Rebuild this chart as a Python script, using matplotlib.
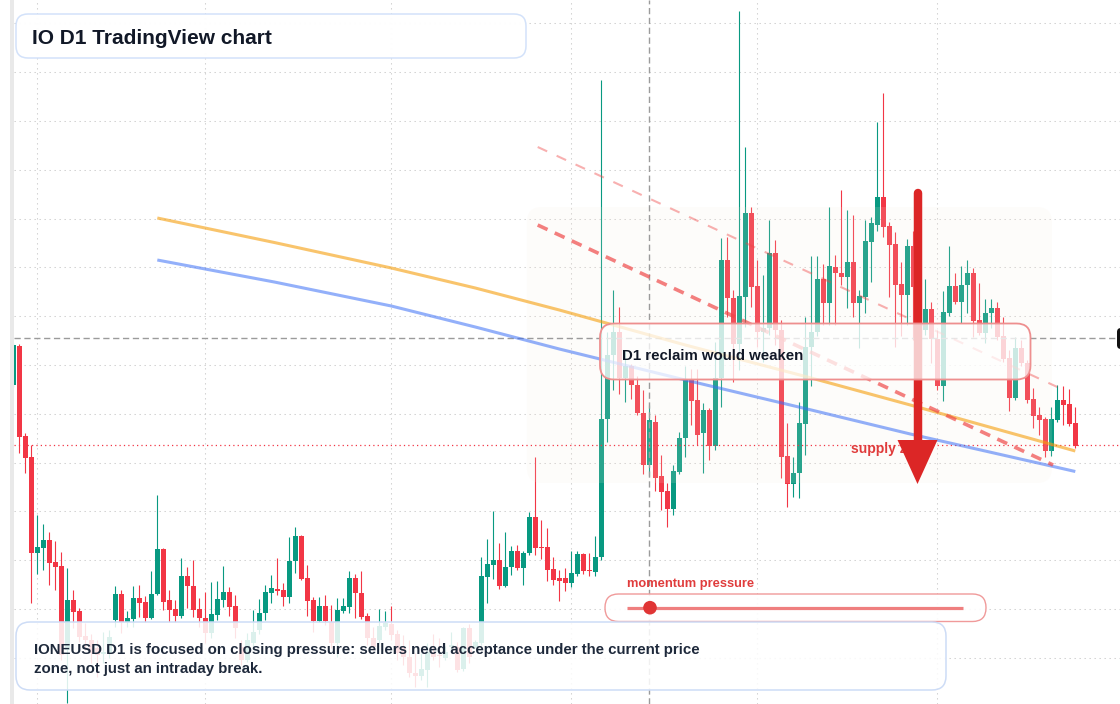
import numpy as np
import matplotlib.pyplot as plt
import matplotlib.transforms as mtransforms
from matplotlib.patches import FancyBboxPatch, Polygon, Circle, Rectangle

plt.rcParams['font.family'] = ['Liberation Sans', 'DejaVu Sans']

W, H = 1120, 704

# daily IO candles (price units), oldest first
opens = [0.519, 0.558, 0.468, 0.447, 0.351, 0.356, 0.364, 0.342, 0.338, 0.254,
         0.304, 0.293, 0.268, 0.264, 0.256, 0.250, 0.251, 0.284, 0.310, 0.282,
         0.285, 0.306, 0.302, 0.286, 0.310, 0.355, 0.304, 0.295, 0.288, 0.328,
         0.318, 0.295, 0.286, 0.271, 0.289, 0.304, 0.312, 0.298, 0.257, 0.244,
         0.261, 0.274, 0.291, 0.311, 0.315, 0.314, 0.307, 0.343, 0.368, 0.326,
         0.304, 0.283, 0.298, 0.282, 0.261, 0.293, 0.297, 0.326, 0.311, 0.288,
         0.266, 0.264, 0.277, 0.280, 0.270, 0.257, 0.247, 0.231, 0.228, 0.234,
         0.252, 0.249, 0.246, 0.257, 0.257, 0.235, 0.276, 0.257, 0.261, 0.327,
         0.339, 0.344, 0.318, 0.337, 0.353, 0.336, 0.351, 0.387, 0.357, 0.357,
         0.335, 0.326, 0.326, 0.321, 0.330, 0.350, 0.334, 0.332, 0.347, 0.485,
         0.549, 0.572, 0.526, 0.538, 0.519, 0.491, 0.439, 0.482, 0.428, 0.413,
         0.395, 0.432, 0.466, 0.525, 0.504, 0.471, 0.494, 0.458, 0.526, 0.644,
         0.606, 0.560, 0.607, 0.691, 0.618, 0.572, 0.576, 0.651, 0.574, 0.448,
         0.420, 0.431, 0.480, 0.557, 0.572, 0.625, 0.601, 0.637, 0.631, 0.627,
         0.642, 0.601, 0.607, 0.662, 0.679, 0.707, 0.678, 0.660, 0.620, 0.609,
         0.658, 0.617, 0.574, 0.595, 0.565, 0.518, 0.591, 0.618, 0.602, 0.619,
         0.631, 0.584, 0.571, 0.591, 0.596, 0.568, 0.546, 0.506, 0.556, 0.541,
         0.505, 0.489, 0.485, 0.453, 0.484, 0.504, 0.500, 0.481]
highs = [0.561, 0.560, 0.471, 0.459, 0.389, 0.380, 0.372, 0.363, 0.352, 0.336,
         0.314, 0.296, 0.281, 0.270, 0.264, 0.272, 0.274, 0.318, 0.314, 0.293,
         0.318, 0.319, 0.308, 0.333, 0.409, 0.356, 0.314, 0.304, 0.346, 0.337,
         0.344, 0.306, 0.312, 0.322, 0.323, 0.338, 0.317, 0.309, 0.264, 0.271,
         0.294, 0.305, 0.319, 0.329, 0.346, 0.321, 0.367, 0.377, 0.369, 0.339,
         0.307, 0.307, 0.309, 0.299, 0.306, 0.306, 0.333, 0.330, 0.333, 0.291,
         0.277, 0.295, 0.293, 0.298, 0.274, 0.269, 0.264, 0.251, 0.251, 0.261,
         0.270, 0.266, 0.258, 0.272, 0.262, 0.277, 0.280, 0.264, 0.347, 0.365,
         0.393, 0.361, 0.372, 0.358, 0.359, 0.353, 0.392, 0.447, 0.384, 0.376,
         0.347, 0.334, 0.336, 0.353, 0.353, 0.351, 0.351, 0.368, 0.824, 0.572,
         0.614, 0.597, 0.553, 0.540, 0.528, 0.514, 0.499, 0.489, 0.449, 0.421,
         0.439, 0.472, 0.538, 0.535, 0.535, 0.501, 0.496, 0.562, 0.666, 0.667,
         0.614, 0.893, 0.757, 0.697, 0.644, 0.629, 0.684, 0.664, 0.584, 0.481,
         0.447, 0.502, 0.587, 0.648, 0.648, 0.640, 0.697, 0.649, 0.714, 0.694,
         0.689, 0.614, 0.684, 0.687, 0.782, 0.811, 0.682, 0.672, 0.642, 0.665,
         0.673, 0.624, 0.625, 0.602, 0.574, 0.613, 0.658, 0.631, 0.638, 0.644,
         0.636, 0.621, 0.605, 0.605, 0.602, 0.587, 0.554, 0.567, 0.564, 0.544,
         0.516, 0.497, 0.487, 0.497, 0.519, 0.518, 0.515, 0.497]
lows = [0.517, 0.451, 0.431, 0.301, 0.330, 0.334, 0.319, 0.314, 0.244, 0.201,
        0.276, 0.262, 0.254, 0.241, 0.227, 0.241, 0.246, 0.277, 0.271, 0.277,
        0.277, 0.287, 0.282, 0.285, 0.309, 0.294, 0.282, 0.282, 0.286, 0.296,
        0.287, 0.277, 0.261, 0.266, 0.284, 0.297, 0.288, 0.266, 0.239, 0.242,
        0.257, 0.270, 0.284, 0.301, 0.309, 0.298, 0.301, 0.331, 0.324, 0.288,
        0.272, 0.282, 0.279, 0.256, 0.247, 0.291, 0.291, 0.286, 0.285, 0.259,
        0.254, 0.261, 0.274, 0.264, 0.244, 0.239, 0.227, 0.217, 0.224, 0.217,
        0.244, 0.237, 0.244, 0.252, 0.232, 0.233, 0.241, 0.256, 0.259, 0.301,
        0.325, 0.315, 0.317, 0.329, 0.334, 0.319, 0.349, 0.349, 0.345, 0.323,
        0.319, 0.303, 0.313, 0.317, 0.328, 0.330, 0.328, 0.328, 0.344, 0.462,
        0.514, 0.510, 0.502, 0.505, 0.489, 0.430, 0.428, 0.413, 0.394, 0.377,
        0.389, 0.430, 0.447, 0.479, 0.459, 0.431, 0.444, 0.454, 0.497, 0.587,
        0.522, 0.534, 0.577, 0.597, 0.557, 0.542, 0.569, 0.559, 0.426, 0.397,
        0.407, 0.406, 0.449, 0.518, 0.568, 0.579, 0.579, 0.579, 0.619, 0.596,
        0.587, 0.556, 0.591, 0.622, 0.673, 0.667, 0.607, 0.557, 0.568, 0.579,
        0.564, 0.569, 0.569, 0.541, 0.514, 0.503, 0.588, 0.600, 0.581, 0.591,
        0.567, 0.569, 0.561, 0.576, 0.564, 0.542, 0.493, 0.504, 0.538, 0.501,
        0.476, 0.469, 0.447, 0.448, 0.482, 0.479, 0.478, 0.456]
closes = [0.559, 0.467, 0.446, 0.351, 0.357, 0.364, 0.341, 0.337, 0.249, 0.304,
          0.292, 0.267, 0.264, 0.251, 0.249, 0.252, 0.267, 0.310, 0.282, 0.286,
          0.306, 0.301, 0.286, 0.310, 0.355, 0.302, 0.294, 0.288, 0.328, 0.318,
          0.294, 0.286, 0.271, 0.290, 0.305, 0.312, 0.297, 0.276, 0.244, 0.264,
          0.272, 0.291, 0.312, 0.316, 0.313, 0.307, 0.343, 0.368, 0.325, 0.303,
          0.283, 0.298, 0.283, 0.261, 0.294, 0.298, 0.326, 0.311, 0.287, 0.266,
          0.257, 0.278, 0.281, 0.269, 0.251, 0.247, 0.231, 0.228, 0.235, 0.252,
          0.247, 0.248, 0.252, 0.259, 0.234, 0.276, 0.247, 0.262, 0.328, 0.340,
          0.344, 0.318, 0.337, 0.353, 0.336, 0.351, 0.387, 0.356, 0.356, 0.334,
          0.324, 0.323, 0.321, 0.331, 0.350, 0.333, 0.333, 0.347, 0.485, 0.549,
          0.572, 0.526, 0.538, 0.519, 0.491, 0.439, 0.484, 0.426, 0.412, 0.395,
          0.433, 0.466, 0.525, 0.503, 0.469, 0.494, 0.458, 0.526, 0.644, 0.606,
          0.560, 0.608, 0.691, 0.617, 0.572, 0.576, 0.651, 0.574, 0.447, 0.420,
          0.431, 0.481, 0.557, 0.572, 0.625, 0.601, 0.638, 0.631, 0.627, 0.642,
          0.601, 0.608, 0.663, 0.681, 0.707, 0.677, 0.659, 0.619, 0.609, 0.658,
          0.617, 0.574, 0.595, 0.565, 0.518, 0.592, 0.618, 0.602, 0.619, 0.631,
          0.583, 0.571, 0.591, 0.596, 0.567, 0.545, 0.506, 0.556, 0.541, 0.504,
          0.488, 0.484, 0.453, 0.485, 0.504, 0.499, 0.480, 0.458]

# overlays (x in candle index, y in price)
ema_fast_x = [24, 43.5, 63, 77, 91, 112, 133, 149.5, 177]
ema_fast = [0.686, 0.6615, 0.636, 0.616, 0.594, 0.559, 0.526, 0.499, 0.453]
ema_slow_x = [24, 43.5, 63, 77, 91, 112, 133, 149.5, 177]
ema_slow = [0.644, 0.622, 0.598, 0.577, 0.555, 0.524, 0.494, 0.470, 0.4325]
upper_trend_x = [87.4, 174.0]
upper_trend = [0.757, 0.517]
lower_trend_x = [87.4, 173.3]
lower_trend = [0.679, 0.439]
zone_x = [85.6, 173.1]
zone_y = [0.421, 0.697]
last_price = 0.459
cross_x, cross_y = 106, 0.566
month_starts = [4, 32, 63, 93, 124, 154]
arrow_x, arrow_from, arrow_to = 150.7, 0.711, 0.420

GREEN, RED = '#089981', '#f23645'

fig = plt.figure(figsize=(W / 100, H / 100), dpi=100)
ax = fig.add_axes([13.6 / W, 0, 1 - 13.6 / W, 1])
ax.set_axis_off()
pix = mtransforms.Affine2D().scale(1, -1).translate(0, H)

o, hi, lo, c = map(np.array, (opens, highs, lows, closes))
idx = np.arange(len(o))
up = c >= o
col = np.where(up, GREEN, RED)

# grid
for lvl in np.arange(0.2462, 0.89, 0.0488):
    ax.axhline(lvl, color='#cfcfcf', lw=0.75, ls=(0, (1.3, 3.5)), zorder=1)
for m in month_starts:
    ax.axvline(m, color='#cfcfcf', lw=0.75, ls=(0, (1.3, 3.5)), zorder=1)

# candles
ax.vlines(idx, lo, hi, colors=col, lw=0.8, zorder=2)
ax.bar(idx, np.maximum(np.abs(c - o), 0.0012), bottom=np.minimum(o, c),
       width=0.8, color=col, lw=0, zorder=2.1)

# zone tint above candles
zone = FancyBboxPatch((zone_x[0], zone_y[0]), zone_x[1] - zone_x[0],
                      zone_y[1] - zone_y[0],
                      boxstyle='round,pad=0,rounding_size=2.5',
                      mutation_aspect=0.006, fc='#f7eadc', ec='none',
                      alpha=0.14, zorder=3)
ax.add_patch(zone)

# crosshair and last price
ax.axhline(cross_y, color='#9b9b9b', lw=1, ls=(0, (4.5, 2.6)), zorder=3.2)
ax.axvline(cross_x, color='#9b9b9b', lw=1, ls=(0, (4.5, 2.6)), zorder=3.2)
ax.axhline(last_price, color=RED, lw=0.9, ls=(0, (1, 2.5)), zorder=3.2)

# trend lines
ax.plot(ema_fast_x, ema_fast, color='#f59e0b', alpha=0.6, lw=2.2,
        solid_capstyle='butt', solid_joinstyle='round', zorder=4)
ax.plot(ema_slow_x, ema_slow, color='#3b6ff6', alpha=0.55, lw=2.2,
        solid_capstyle='butt', solid_joinstyle='round', zorder=4)
ax.plot(upper_trend_x, upper_trend, color='#ef4444', alpha=0.42, lw=1.5,
        ls=(0, (5, 5)), zorder=4)
ax.plot(lower_trend_x, lower_trend, color='#ef4444', alpha=0.68, lw=2.6,
        ls=(0, (3, 2.2)), zorder=4)

# supply label sits under the arrow
ax.text(851, 453.5, 'supply zone', transform=pix, color='#e03c3c',
        fontsize=10, fontweight='bold', zorder=4.5)

# red arrow
ax.plot([arrow_x, arrow_x], [arrow_from, arrow_to + 0.03], color='#dc2626',
        lw=6.1, solid_capstyle='round', zorder=5)
ax.add_patch(Polygon([(arrow_x - 3.33, arrow_to + 0.044),
                      (arrow_x + 3.33, arrow_to + 0.044),
                      (arrow_x, arrow_to)], closed=True, fc='#dc2626',
                     ec='none', zorder=5))


def rbox(x0, y0, x1, y1, r, fc, ec, lw, z):
    p = FancyBboxPatch((x0, y0), x1 - x0, y1 - y0,
                       boxstyle=f'round,pad=0,rounding_size={r}',
                       transform=pix, fc=fc, ec=ec, lw=lw, zorder=z,
                       clip_on=False)
    ax.add_patch(p)


# reclaim box
rbox(600, 323.5, 1030.5, 379.5, 14, (1, 1, 1, 0.76), '#ee8f8f', 1.3, 6)
ax.text(622, 360, 'D1 reclaim would weaken', transform=pix, color='#111827',
        fontsize=10.8, fontweight='bold', zorder=7)

# momentum gauge
ax.text(627, 587, 'momentum pressure', transform=pix, color='#e03c3c',
        fontsize=9.3, fontweight='bold', zorder=7)
rbox(605, 594, 986, 621.5, 13.5, (1, 1, 1, 0.9), '#f09a9a', 1.0, 6)
ax.plot([627, 963], [607.7, 607.7], transform=pix, color='#ef7f7f', lw=2.3,
        solid_capstyle='butt', zorder=7, clip_on=False)
ax.add_patch(Circle((650, 607.7), 6.8, transform=pix, fc='#e03535',
                    ec='none', zorder=8, clip_on=False))

# commentary box
rbox(16, 622, 946, 690, 14, (1, 1, 1, 0.86), '#cddcf6', 1.1, 6)
ax.text(34, 654, 'IONEUSD D1 is focused on closing pressure: sellers need '
        'acceptance under the current price', transform=pix,
        color='#1e293b', fontsize=10.8, fontweight='bold', zorder=7)
ax.text(34, 673.5, 'zone, not just an intraday break.', transform=pix,
        color='#1e293b', fontsize=10.8, fontweight='bold', zorder=7)

# title box
rbox(16, 14, 526, 58, 12, (1, 1, 1, 0.97), '#d3e2fa', 1.1, 6)
ax.text(32, 43.5, 'IO D1 TradingView chart', transform=pix, color='#111827',
        fontsize=15, fontweight='bold', zorder=7)

# left strip and clipped price label on the right
fig.add_artist(Rectangle((10, 0), 3.6, H, transform=pix, fc='#e9e9e9',
                         ec='none', zorder=10))
rbox(1117, 328, 1140, 349, 4, '#111111', 'none', 0, 9)

ax.set_xlim(0.05, 184.45)
ax.set_ylim(0.200, 0.904)

fig.savefig('out.png', dpi=100)
